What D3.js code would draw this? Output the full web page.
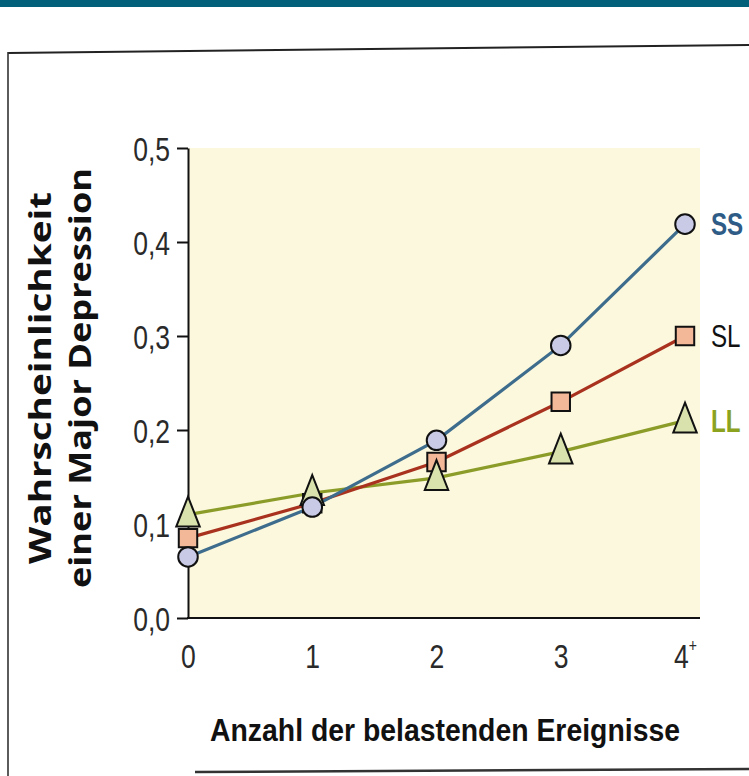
<!DOCTYPE html>
<html><head><meta charset="utf-8">
<script src="https://cdn.jsdelivr.net/npm/d3@7"></script>
<style>
html,body{margin:0;padding:0;background:#fff;}
svg{display:block;}
</style></head>
<body>
<svg id="chart" width="749" height="776"></svg>
<script>
const categories = [0, 1, 2, 3, 4];
const categoryLabels = ["0", "1", "2", "3", "4"];
const ssValues = [0.065, 0.118, 0.189, 0.290, 0.419];
const slValues = [0.085, 0.122, 0.166, 0.230, 0.300];
const llValues = [0.110, 0.133, 0.149, 0.177, 0.210];
const yTicks = [0, 0.1, 0.2, 0.3, 0.4, 0.5];
const seriesNames = ["LL", "SL", "SS"];

(function(){
const svg = d3.select("#chart");
const W = 749, H = 776;
const pLeft = 188, pRight = 700, pTop = 148, pBottom = 618;
const SX = 0.78; // horizontal condensing of the narrow typeface

// top band + frame
svg.append("rect").attr("x",0).attr("y",0).attr("width",W).attr("height",7).attr("fill","#03607a");
svg.append("line").attr("x1",8).attr("y1",53).attr("x2",W).attr("y2",45).attr("stroke","#222").attr("stroke-width",2);
svg.append("line").attr("x1",8).attr("y1",52).attr("x2",8).attr("y2",H).attr("stroke","#333").attr("stroke-width",1.6);
svg.append("line").attr("x1",195).attr("y1",772).attr("x2",W).attr("y2",769).attr("stroke","#333").attr("stroke-width",2.5);

const x = d3.scaleLinear().domain([0, 4]).range([pLeft, 685]);
const y = d3.scaleLinear().domain([0, 0.5]).range([pBottom, pTop]);

// plot background
svg.append("rect").attr("x",pLeft).attr("y",pTop).attr("width",pRight-pLeft).attr("height",pBottom-pTop).attr("fill","#fbf8dd");

const tickFont = "'Liberation Sans','Arial',sans-serif";

// y axis
const yAxis = svg.append("g").attr("transform",`translate(${pLeft},0)`)
  .call(d3.axisLeft(y).tickValues(yTicks).tickSize(11).tickSizeOuter(0).tickPadding(6)
    .tickFormat(d => d.toFixed(1).replace(".", ",")));
yAxis.select(".domain").attr("stroke","#111").attr("stroke-width",2);
yAxis.selectAll(".tick line").attr("stroke","#111").attr("stroke-width",2);
yAxis.selectAll(".tick text").attr("font-family",tickFont).attr("font-size",34).attr("fill","#2a2a2a")
  .attr("dy","0.36em").attr("x", -18 / SX).attr("transform",`scale(${SX},1)`);

// x axis
svg.append("line").attr("x1",pLeft-1).attr("x2",pRight).attr("y1",y(0)).attr("y2",y(0)).attr("stroke","#111").attr("stroke-width",2);
const xAxis = svg.append("g").attr("transform",`translate(0,${y(0)})`)
  .call(d3.axisBottom(x).tickValues(categories).tickSize(0).tickPadding(26).tickFormat((d,i)=>categoryLabels[i]));
xAxis.select(".domain").remove();
xAxis.selectAll(".tick text").attr("font-family",tickFont).attr("font-size",34).attr("fill","#2a2a2a")
  .attr("transform",`scale(${SX},1)`);
xAxis.selectAll(".tick text").filter(d => d === 4).append("tspan").attr("font-size",18).attr("dy","-0.9em").text("+");

// series
const series = {
  SS: {vals: ssValues, line:"#3d6c8c", fill:"#c9cbe6", label:"#2e5c86", shape:"circle"},
  SL: {vals: slValues, line:"#a9321f", fill:"#f2b898", label:"#111", shape:"square"},
  LL: {vals: llValues, line:"#8c9c28", fill:"#d9e2ac", label:"#8ba31f", shape:"triangle"}
};
const lineGen = d3.line().x((d,i)=>x(categories[i])).y(d=>y(d));
seriesNames.forEach(n => {
  svg.append("path").attr("d", lineGen(series[n].vals)).attr("fill","none")
    .attr("stroke", series[n].line).attr("stroke-width",3.2);
});
const sym = {
  circle: d3.symbol().type(d3.symbolCircle).size(300),
  square: d3.symbol().type(d3.symbolSquare).size(340),
  triangle: d3.symbol().type(d3.symbolTriangle).size(330)
};
["SL","LL","SS"].forEach(n => {
  const s = series[n];
  svg.append("g").selectAll("path").data(s.vals).join("path")
    .attr("d", sym[s.shape]())
    .attr("transform",(d,i)=>`translate(${x(categories[i])},${y(d) + (s.shape==="triangle"? 2 : 0)}) scale(${s.shape==="triangle"?"0.85,1.25":"1,1"})`)
    .attr("fill", s.fill).attr("stroke","#111").attr("stroke-width",2).attr("vector-effect","non-scaling-stroke");
});
// series labels
seriesNames.forEach(n => {
  const s = series[n];
  svg.append("text").attr("transform",`translate(711,${y(s.vals[4])}) scale(${SX},1)`).attr("dy","0.36em")
    .attr("font-family",tickFont).attr("font-size",31).attr("font-weight",n==="SL"?"normal":"bold")
    .attr("fill",s.label).text(n);
});

// axis titles
const yt = svg.append("text").attr("transform","translate(0,378) rotate(-90)")
  .attr("text-anchor","middle").attr("font-family","'Open Sans','Noto Sans',sans-serif")
  .attr("font-weight","bold").attr("font-size",30).attr("fill","#111");
yt.append("tspan").attr("x",0).attr("y",51).attr("textLength",372).attr("lengthAdjust","spacingAndGlyphs").text("Wahrscheinlichkeit");
yt.append("tspan").attr("x",0).attr("y",91).attr("textLength",420).attr("lengthAdjust","spacingAndGlyphs").text("einer Major Depression");

svg.append("text").attr("x",445).attr("y",741).attr("text-anchor","middle")
  .attr("font-family",tickFont).attr("font-weight","bold").attr("font-size",31).attr("fill","#111")
  .attr("textLength",470).attr("lengthAdjust","spacingAndGlyphs")
  .text("Anzahl der belastenden Ereignisse");
})();
</script>
</body></html>
